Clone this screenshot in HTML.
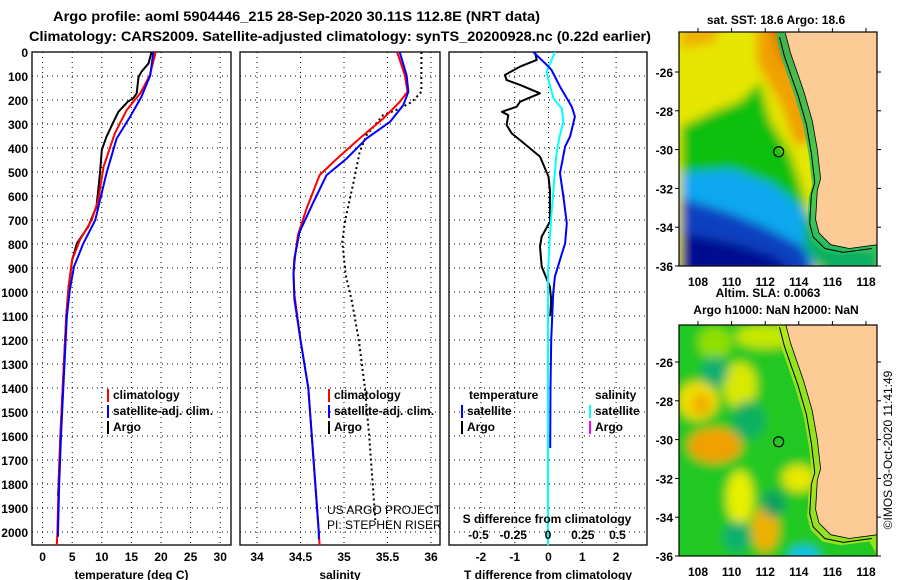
<!DOCTYPE html>
<html><head><meta charset="utf-8"><style>
html,body{margin:0;padding:0;background:#fff;}
svg{display:block;font-family:"Liberation Sans",sans-serif;font-weight:bold;}
</style></head><body>
<svg id="chart" width="900" height="580" viewBox="0 0 900 580">
<text x="53" y="21" font-size="14" textLength="487" lengthAdjust="spacingAndGlyphs">Argo profile: aoml 5904446_215 28-Sep-2020 30.11S 112.8E (NRT data)</text>
<text x="29" y="41" font-size="14" textLength="622" lengthAdjust="spacingAndGlyphs">Climatology: CARS2009. Satellite-adjusted climatology: synTS_20200928.nc (0.22d earlier)</text>
<g id="panels"></g>
<g id="maps"></g>
</svg>
<script>
// ---------- data ----------
const depthTicks=[0,100,200,300,400,500,600,700,800,900,1000,1100,1200,1300,1400,1500,1600,1700,1800,1900,2000];
const tempTicks=[0,5,10,15,20,25,30];
const salTicks=[34,34.5,35,35.5,36];
const salTickLabels=["34","34.5","35","35.5","36"];
const tdTicks=[-2,-1,0,1,2];
const sdTicks=[-0.5,-0.25,0,0.25,0.5];
const sdTickLabels=["-0.5","-0.25","0","0.25","0.5"];

const tArgoDepth=[0,47,82,104,172,193,207,249,290,353,408,505,644,728,797,866,978,1100,1200,1400,1600,1800,1850];
const tArgoVal=[18.4,17.9,16.7,16.2,15.9,15.3,14.4,12.8,12.0,10.8,10.0,9.7,9.1,7.7,5.8,5.0,4.4,4.0,3.8,3.4,3.0,2.7,2.6];
const tClimDepth=[0,97,172,242,339,478,617,700,783,866,978,1100,1200,1400,1600,1800,2000,2055];
const tClimVal=[19.1,18.1,16.5,14.2,12.2,10.3,9.4,8.3,6.3,5.0,4.4,4.0,3.8,3.4,3.0,2.7,2.5,2.4];
const tSatDepth=[0,97,186,269,361,505,617,700,797,894,992,1100,1200,1400,1600,1800,2000,2020];
const tSatVal=[18.7,18.2,16.7,14.8,12.5,10.8,9.7,8.9,6.9,5.3,4.6,4.1,3.9,3.5,3.1,2.8,2.6,2.6];

const sClimDepth=[0,97,166,208,277,360,444,513,652,763,846,915,1011,1200,1400,1600,1800,2000,2055];
const sClimVal=[35.61,35.70,35.73,35.64,35.45,35.18,34.92,34.72,34.57,34.47,34.44,34.42,34.43,34.50,34.59,34.63,34.67,34.71,34.72];
const sSatDepth=[0,97,166,222,291,360,444,513,625,749,860,930,1030,1200,1400,1600,1800,2000,2030];
const sSatVal=[35.64,35.72,35.74,35.68,35.53,35.26,35.03,34.80,34.65,34.49,34.43,34.42,34.43,34.50,34.59,34.63,34.67,34.71,34.71];
const sArgoDepth=[0,97,166,208,236,263,346,416,541,707,791,930,1037,1200,1400,1600,1800,1950];
const sArgoVal=[35.89,35.89,35.89,35.78,35.64,35.45,35.26,35.18,35.11,35.01,34.98,35.02,35.09,35.17,35.24,35.29,35.33,35.36];

const dtArgoDepth=[0,33,61,96,117,137,172,207,228,249,263,304,339,367,436,519,575,672,707,769,811,894,978,1033,1100];
const dtArgoVal=[-0.40,-0.35,-0.84,-1.29,-1.24,-0.84,-0.25,-0.84,-0.94,-1.38,-1.19,-1.24,-1.09,-0.84,-0.25,0.0,0.04,0.04,0.04,-0.2,-0.25,-0.2,0.04,0.08,0.05];
const dtSatDepth=[0,61,75,144,228,269,352,394,505,603,714,797,866,936,1005,1200,1400,1650];
const dtSatVal=[-0.45,0,0.09,0.34,0.69,0.78,0.64,0.49,0.34,0.44,0.54,0.49,0.34,0.19,0.14,0.08,0.06,0.05];
const dsSatDepth=[0,83,111,194,236,291,361,430,569,708,916,1023,1400,2000,2055];
const dsSatVal=[0.05,-0.01,0.0,0.04,0.10,0.11,0.08,0.06,0.04,0.02,0.0,0.0,0.0,0.0,0.0];

const mapLonTicks=[108,110,112,114,116,118];
const mapLatTicks=[-26,-28,-30,-32,-34,-36];
const coastLon=[113.2,113.5,113.9,114.3,114.8,115.1,115.3,115.1,115.0,115.2,115.9,117.0,118.7];
const coastLat=[-24.0,-25.0,-26.0,-27.0,-28.5,-30.0,-31.5,-32.1,-33.6,-34.3,-34.9,-35.1,-34.9];
const argoLon=112.8, argoLat=-30.11;

// ---------- helpers ----------
const NS="http://www.w3.org/2000/svg";
function mk(tag,attrs,parent){const e=document.createElementNS(NS,tag);for(const k in attrs)e.setAttribute(k,attrs[k]);parent.appendChild(e);return e;}
const panelsG=document.getElementById('panels');
const TOP=52,BOT=545;
const yD=d=>52+d*0.24;

function panel(name,x0,x1,xs,ticks,labels,xlabel){
  const g=mk('g',{},panelsG);
  
  
  ticks.forEach(t=>{const x=xs(t);
    const l=mk('line',{x1:x,x2:x,y1:TOP,y2:BOT,stroke:'#000','stroke-width':1,'stroke-dasharray':'1,4'},g);
    
    
  });
  depthTicks.forEach(d=>{const y=yD(d);
    const l=mk('line',{x1:x0,x2:x1,y1:y,y2:y,stroke:'#000','stroke-width':1,'stroke-dasharray':'1,4'},g);
    
    
  });
  const r=mk('rect',{x:x0,y:TOP,width:x1-x0,height:BOT-TOP,fill:'none',stroke:'#000','stroke-width':1.3},g);
  
  
  if(labels){ticks.forEach((t,i)=>{
    const tx=mk('text',{x:xs(t),y:561,'font-size':12,'text-anchor':'middle'},g);tx.textContent=labels[i];
    
    
  });}
  const xl=mk('text',{x:(x0+x1)/2,y:579,'font-size':12,'text-anchor':'middle'},g);xl.textContent=xlabel;
  
  
  return g;
}
function line(g,xs,depths,vals,color,w,name,dash){
  const pts=depths.map((d,i)=>xs(vals[i]).toFixed(1)+','+yD(d).toFixed(1)).join(' ');
  const p=mk('polyline',{points:pts,fill:'none',stroke:color,'stroke-width':w,'stroke-linejoin':'round'},g);
  if(dash)p.setAttribute('stroke-dasharray',dash);
  
  
}
function legendEntry(g,x,y,color,label,name){
  const m=mk('rect',{x:x,y:y-10,width:2,height:13,fill:color},g);
  
  
  const t=mk('text',{x:x+6,y:y,'font-size':12},g);t.textContent=label;
  
  
}

depthTicks.forEach(d=>{
  const t=mk('text',{x:28,y:yD(d)+5,'font-size':12,'text-anchor':'end'},panelsG);t.textContent=d;
  
  
});

const xT=t=>42.6+5.92*t;
const g1=panel('temperature-panel',32,231,xT,tempTicks,tempTicks.map(String),'temperature (deg C)');
line(g1,xT,tArgoDepth,tArgoVal,'#000',2,'temp-argo-line');
line(g1,xT,tClimDepth,tClimVal,'#f00',2,'temp-climatology-line');
line(g1,xT,tSatDepth,tSatVal,'#00f',2,'temp-satellite-line');
legendEntry(g1,107,399,'#f00','climatology','legend-climatology');
legendEntry(g1,107,415,'#00f','satellite-adj. clim.','legend-satellite-adj');
legendEntry(g1,107,431,'#000','Argo','legend-argo');

const xS=s=>257+87*(s-34);
const g2=panel('salinity-panel',240,440,xS,salTicks,salTickLabels,'salinity');
line(g2,xS,sArgoDepth,sArgoVal,'#000',2,'salinity-argo-line','2,3');
line(g2,xS,sClimDepth,sClimVal,'#f00',2,'salinity-climatology-line');
line(g2,xS,sSatDepth,sSatVal,'#00f',2,'salinity-satellite-line');
legendEntry(g2,328,399,'#f00','climatology','legend-climatology');
legendEntry(g2,328,415,'#00f','satellite-adj. clim.','legend-satellite-adj');
legendEntry(g2,328,431,'#000','Argo','legend-argo');
[['US ARGO PROJECT',514],['PI: STEPHEN RISER',529]].forEach(([s,y])=>{
  const t=mk('text',{x:327,y:y,'font-size':12,'font-weight':'normal'},g2);t.textContent=s;
  
  
});

const xDT=v=>548.5+33.8*v;
const xDS=v=>548+139*v;
const g3=panel('difference-panel',449,647,xDT,tdTicks,tdTicks.map(String),'T difference from climatology');
line(g3,xDT,dtArgoDepth,dtArgoVal,'#000',2,'tdiff-argo-line');
line(g3,xDS,dsSatDepth,dsSatVal,'#0ff',2,'sdiff-satellite-line');
line(g3,xDT,dtSatDepth,dtSatVal,'#00f',2,'tdiff-satellite-line');
[['temperature',469,399],['salinity',595,399]].forEach(([s,x,y])=>{
  const t=mk('text',{x:x,y:y,'font-size':12},g3);t.textContent=s;
  
  
});
legendEntry(g3,461,415,'#00f','satellite','legend-t-satellite');
legendEntry(g3,461,431,'#000','Argo','legend-t-argo');
legendEntry(g3,589,415,'#0ff','satellite','legend-s-satellite');
legendEntry(g3,589,431,'#f0f','Argo','legend-s-argo');
const st=mk('text',{x:547,y:523,'font-size':12,'text-anchor':'middle'},g3);st.textContent='S difference from climatology';


sdTicks.forEach((v,i)=>{
  const t=mk('text',{x:xDS(v),y:539,'font-size':12,'text-anchor':'middle'},g3);t.textContent=sdTickLabels[i];
  
  
});

// ---------- maps ----------
const mapsG=document.getElementById('maps');
const MX0=679,MX1=877;
const mx=lon=>698+16.8*(lon-108);
function mapPanel(name,top,latRef,kind){
  const my=lat=>latRef+19.4*(-26-lat);
  const g=mk('g',{},mapsG);
  
  
  const cid='clip'+kind;
  const cp=mk('clipPath',{id:cid},g);mk('rect',{x:MX0,y:top,width:MX1-MX0,height:my(-36)-top},cp);
  const fg=mk('g',{'clip-path':'url(#'+cid+')'},g);
  const fid='blur'+kind;
  const f=mk('filter',{id:fid,x:'-20%',y:'-20%',width:'140%',height:'140%'},g);mk('feGaussianBlur',{stdDeviation:5},f);
  const bg=mk('g',{filter:'url(#'+fid+')'},fg);
  const P=(arr)=>arr.map(([a,b])=>mx(a).toFixed(1)+','+my(b).toFixed(1)).join(' ');
  if(kind==='sst'){
    mk('rect',{x:MX0-20,y:top-20,width:240,height:300,fill:'#e6e600'},bg);
    mk('polygon',{points:P([[111.5,-23],[114.5,-23],[115,-29.5],[113.8,-29.8],[113,-27.8],[111.5,-25.5]]),fill:'#f0a000'},bg);
    mk('polygon',{points:P([[112,-23],[113.8,-23],[114,-26],[113,-25.5]]),fill:'#d07800'},bg);
    mk('polygon',{points:P([[107,-23],[109.5,-23],[109,-24.5],[107,-24.8]]),fill:'#f0b000'},bg);
    mk('polygon',{points:P([[107,-28.8],[109,-28],[110.5,-27.5],[111.7,-26.5],[112.3,-28.5],[113.5,-30.2],[114,-31.5],[114.5,-33],[113,-33],[110,-31],[107,-31.3]]),fill:'#10c010'},bg);
    mk('polygon',{points:P([[107,-31.2],[110,-31],[112.5,-31.8],[114.5,-33.2],[115,-36.5],[107,-36.5]]),fill:'#10a8f0'},bg);
    mk('polygon',{points:P([[107,-32.5],[110,-33.3],[112,-34],[114.2,-35],[115,-36.5],[107,-36.5]]),fill:'#0840c0'},bg);
    mk('polygon',{points:P([[107,-34.3],[110,-34.8],[112.5,-35.5],[114,-36.5],[107,-36.5]]),fill:'#000890'},bg);
    mk('polygon',{points:P([[114.4,-33],[115.4,-34.5],[119,-35],[119,-36.5],[115.5,-36.5],[114.3,-35]]),fill:'#10b060'},bg);
  } else {
    mk('rect',{x:MX0-20,y:top-20,width:240,height:300,fill:'#20c820'},bg);
    [[108,-28,1.2,1,'#f0e000'],[109,-30.3,1.6,0.9,'#f0a000'],[108.2,-28.2,0.6,0.6,'#f0b000'],[110.5,-27.2,1,1.2,'#d8e800'],
     [110.5,-33,0.8,1.4,'#e8f000'],[112,-34.6,0.8,1.2,'#f0b000'],[114,-32,1,0.7,'#e8e800'],[112,-24.7,1.8,0.6,'#c8e800'],[109,-25,1,0.8,'#90e000'],
     [109,-26.5,0.8,0.8,'#10b070'],[111,-29,1,1,'#10b060'],[110.3,-35,0.8,0.8,'#10b070'],[114.3,-36,0.9,0.5,'#10c0f0'],[112.5,-33.3,0.7,0.7,'#10a060']]
     .forEach(([lo,la,rx,ry,c])=>mk('ellipse',{cx:mx(lo),cy:my(la),rx:rx*16.8,ry:ry*19.4,fill:c},bg));
  }
  const coastPts=coastLon.map((lo,i)=>[lo,coastLat[i]]);
  const strip=coastPts.map(([a,b])=>[a-0.5,b-0.35]);
  mk('polygon',{points:P(coastPts.concat([[119,-35],[119,-36.5]]).concat(strip.slice().reverse().concat([[112.7,-23]]))),fill:kind==='sst'?'#20c060':'#b0e820',opacity:0.8},fg);
  const land=mk('polygon',{points:P([[113.2,-23]].concat(coastPts).concat([[119,-34.9],[119,-23]])),fill:'#fccb96'},fg);
  
  
  const shelf=mk('polyline',{points:P(coastPts.map(([a,b])=>[a-0.35,b-0.2])),fill:'none',stroke:'#000','stroke-width':1},fg);
  
  
  mk('polyline',{points:P(coastPts),fill:'none',stroke:'#000','stroke-width':0.8},fg);
  const dot=mk('circle',{cx:mx(argoLon),cy:my(argoLat),r:5,fill:'none',stroke:'#000','stroke-width':1.2},g);
  
  
  const bottom=my(-36);
  mk('rect',{x:MX0,y:top,width:MX1-MX0,height:bottom-top,fill:'none',stroke:'#000','stroke-width':1.2},g);
  mapLonTicks.forEach(lo=>{
    mk('line',{x1:mx(lo),x2:mx(lo),y1:top,y2:top-4,stroke:'#000'},g);
    const t=mk('text',{x:mx(lo),y:bottom+20,'font-size':12,'text-anchor':'middle'},g);t.textContent=lo;
    
    
  });
  mapLatTicks.forEach(la=>{
    mk('line',{x1:MX1,x2:MX1+4,y1:my(la),y2:my(la),stroke:'#000'},g);
    mk('line',{x1:MX0-4,x2:MX0,y1:my(la),y2:my(la),stroke:'#000'},g);
    const t=mk('text',{x:673,y:my(la)+5,'font-size':12,'text-anchor':'end'},g);t.textContent=la;
    
    
  });
  return g;
}
mapPanel('sst-map',32,72,'sst');
mapPanel('sla-map',325,362,'sla');
[['sat. SST: 18.6 Argo: 18.6',776,24,'sst-map-title'],['Altim. SLA: 0.0063',768,297,'sla-map-title'],['Argo h1000: NaN h2000: NaN',776,314,'argo-height-title']].forEach(([s,x,y,n])=>{
  const t=mk('text',{x:x,y:y,'font-size':12,'text-anchor':'middle'},mapsG);t.textContent=s;
  
  
});
const im=mk('text',{x:0,y:0,'font-size':12,'font-weight':'normal','text-anchor':'middle',transform:'translate(892,450) rotate(-90)'},mapsG);
im.textContent='©IMOS 03-Oct-2020 11:41:49';


</script>
</body></html>
